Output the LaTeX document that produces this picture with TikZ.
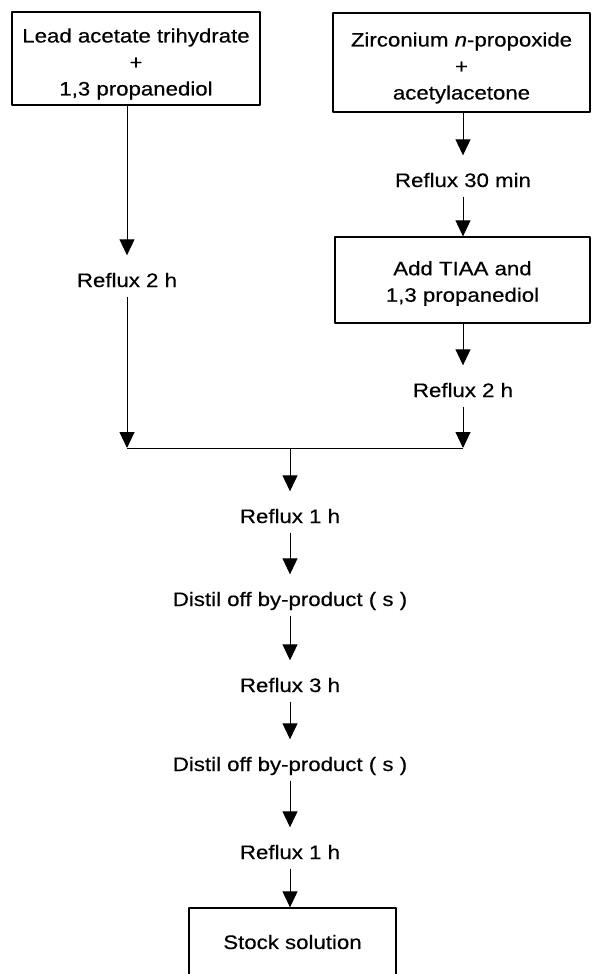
\documentclass[tikz,border=0pt]{standalone}
\usepackage{fontspec}
\setmainfont{Liberation Sans}[FakeStretch=1.14, FakeBold=0.4]
\usetikzlibrary{arrows.meta}
\begin{document}
\begin{tikzpicture}[x=1bp, y=-1bp, font=\fontsize{19.5bp}{26.5bp}\selectfont, line join=round, >={Triangle[width=15bp,length=16bp]},
	boxed/.style={draw, line width=1.3bp, align=center, inner sep=0pt},
	stage/.style={anchor=base, text height=29.5bp, text depth=7.3bp, inner ysep=2bp, inner xsep=0pt}]
	\def\trai{127} % cột trái
	\def\giua{290} % cột giữa
	\def\phai{463} % cột phải
	\def\dem#1{\rule{0pt}{#1bp}} % đẩy chữ trong khung xuống
	\useasboundingbox (0,0) rectangle (595,974);
	\clip (0,0) rectangle (595,974);
	\path 
	(136,58.5) node[boxed, minimum width=248bp, minimum height=93bp] (lead) {\dem{25}Lead acetate trihydrate\\+\\1,3 propanediol}
	(461.5,62.5) node[boxed, minimum width=257bp, minimum height=99bp] (zirc) {\dem{25}Zirconium \textit{n}-propoxide\\+\\acetylacetone}
	(\phai,187) node[stage] (r30) {Reflux 30 min}
	(462.5,280) node[boxed, minimum width=255bp, minimum height=86bp] (tiaa) {\dem{21}Add TIAA and\\1,3 propanediol}
	(\trai,287) node[stage] (r2L) {Reflux 2 h}
	(\phai,397) node[stage] (r2R) {Reflux 2 h}
	(\giua,523) node[stage] (r1a) {Reflux 1 h}
	(\giua,606) node[stage] (dis1) {Distil off by-product ( s )}
	(\giua,692) node[stage] (r3) {Reflux 3 h}
	(\giua,771) node[stage] (dis2) {Distil off by-product ( s )}
	(\giua,859) node[stage] (r1b) {Reflux 1 h}
	(292.5,942) node[boxed, minimum width=207bp, minimum height=68bp] (stock) {Stock solution}
	;
	\coordinate (mix) at (\giua,448);
	\draw[line width=.9bp] (r2L |- mix)--(r2R |- mix);
	\begin{scope}[line width=.9bp]
	\draw[->] (lead.south -| r2L)--(r2L);
	\draw[->] (r2L)--(r2L |- mix);
	\draw[->] (zirc.south -| r30)--(r30);
	\draw[->] (r30)--(tiaa.north -| r30);
	\draw[->] (tiaa.south -| r2R)--(r2R);
	\draw[->] (r2R)--(r2R |- mix);
	\draw[->] (mix)--(r1a);
	\draw[->] (r1a)--(dis1);
	\draw[->] (dis1)--(r3);
	\draw[->] (r3)--(dis2);
	\draw[->] (dis2)--(r1b);
	\draw[->] (r1b)--(stock.north -| r1b);
	\end{scope}
\end{tikzpicture}
\end{document}
